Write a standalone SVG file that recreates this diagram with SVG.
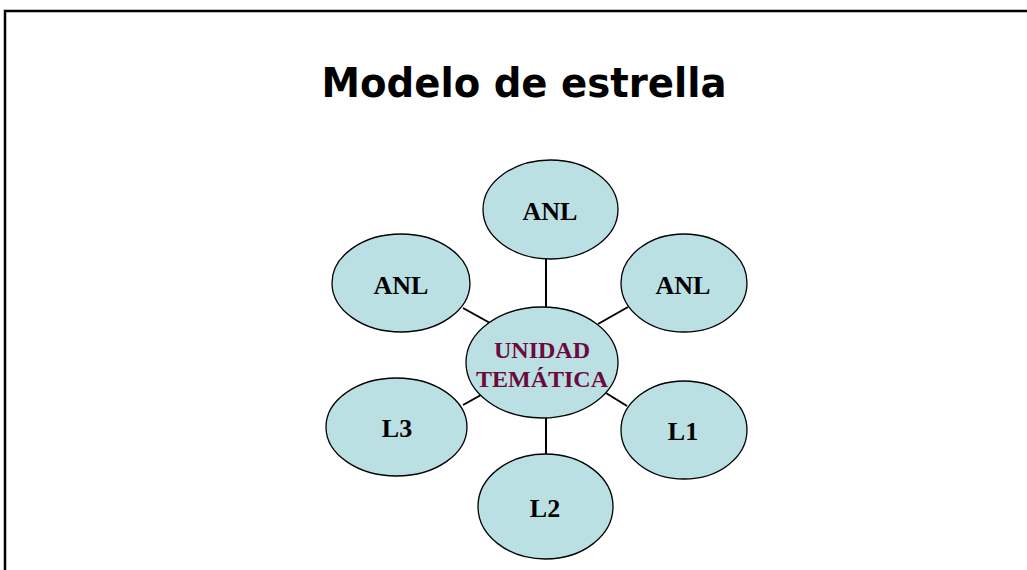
<svg xmlns="http://www.w3.org/2000/svg" width="1027" height="570" viewBox="0 0 1027 570">
<style>
.n{fill:#BBE0E3;stroke:#000;stroke-width:1.3}
.t{font-family:"Liberation Serif","Times New Roman",serif;font-weight:bold;font-size:26px;fill:#000;text-anchor:middle}
.c{fill:#6B0A3C;font-size:24px}
.e{stroke:#000;stroke-width:2;fill:none}
</style>
<rect width="1027" height="570" fill="#fff"/>
<path d="M5,570 V11 H1027" fill="none" stroke="#000" stroke-width="2.5"/>
<text x="524" y="97" font-family="'DejaVu Sans',sans-serif" font-weight="bold" font-size="41" text-anchor="middle" textLength="405" lengthAdjust="spacingAndGlyphs">Modelo de estrella</text>
<g id="connectors">
<line class="e" x1="546" y1="259" x2="546" y2="307"/>
<line class="e" x1="463" y1="308" x2="490" y2="323"/>
<line class="e" x1="598" y1="324" x2="628" y2="307"/>
<line class="e" x1="463" y1="405" x2="481" y2="395"/>
<line class="e" x1="606" y1="393" x2="627" y2="406"/>
<line class="e" x1="546" y1="418" x2="546" y2="454"/>
</g>
<g id="center"><ellipse class="n" cx="542" cy="362.5" rx="76" ry="55.5"/><text class="t c" x="542" y="358">UNIDAD</text><text class="t c" x="542" y="387">TEMÁTICA</text></g>
<g id="anl-top"><ellipse class="n" cx="550.5" cy="209.5" rx="67.5" ry="49.5"/><text class="t" x="550" y="220">ANL</text></g>
<g id="anl-left"><ellipse class="n" cx="401" cy="283" rx="69" ry="49"/><text class="t" x="401" y="294">ANL</text></g>
<g id="anl-right"><ellipse class="n" cx="684" cy="283" rx="63" ry="49"/><text class="t" x="683" y="294">ANL</text></g>
<g id="l3"><ellipse class="n" cx="396.5" cy="427" rx="70.5" ry="49"/><text class="t" x="397" y="437">L3</text></g>
<g id="l1"><ellipse class="n" cx="684" cy="430" rx="63" ry="49"/><text class="t" x="683" y="440">L1</text></g>
<g id="l2"><ellipse class="n" cx="545.5" cy="506.5" rx="67.5" ry="52.5"/><text class="t" x="545" y="517">L2</text></g>
</svg>
